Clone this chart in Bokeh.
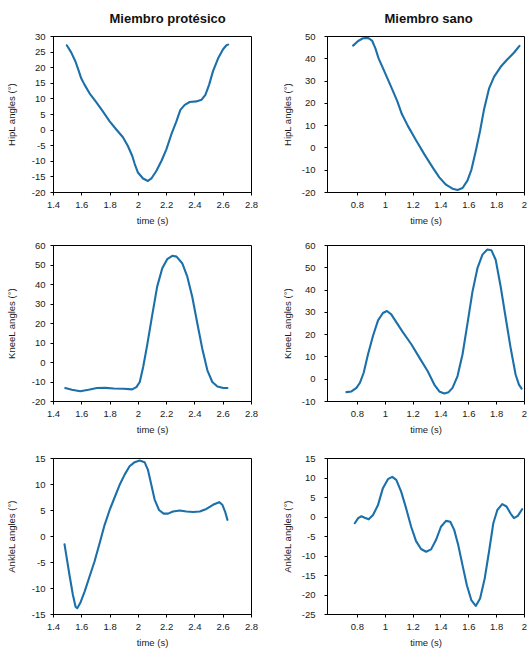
from bokeh.plotting import figure
from bokeh.layouts import gridplot
from bokeh.models import Range1d, FixedTicker
from bokeh.embed import file_html
from bokeh.resources import INLINE

# ---------------- data ----------------
col_titles = ["Miembro protésico", "Miembro sano"]
y_labels = ["HipL angles (°)", "KneeL angles (°)", "AnkleL angles (°)"]
x_label = "time (s)"

x_ticks_prot = [1.4, 1.6, 1.8, 2.0, 2.2, 2.4, 2.6, 2.8]
x_ticks_sano = [0.8, 1.0, 1.2, 1.4, 1.6, 1.8, 2.0]

hip_prot_t = [1.494, 1.525, 1.556, 1.579, 1.596, 1.620, 1.655, 1.702, 1.749, 1.797, 1.844,
              1.891, 1.926, 1.957, 1.974, 1.997, 2.033, 2.068, 2.092, 2.127, 2.163, 2.198,
              2.233, 2.269, 2.297, 2.328, 2.363, 2.41, 2.446, 2.474, 2.5, 2.528, 2.564,
              2.599, 2.623, 2.635]
hip_prot_y = [27.2, 24.9, 21.9, 18.9, 16.6, 14.5, 11.8, 9.0, 6.0, 2.8, 0.2,
              -2.3, -5.1, -8.3, -10.8, -13.6, -15.5, -16.3, -15.5, -13.1, -9.9, -6.2,
              -1.4, 2.8, 6.5, 8.1, 9.0, 9.2, 9.7, 11.3, 14.5, 18.9, 23.0,
              25.9, 27.2, 27.4]

hip_sano_t = [0.769, 0.805, 0.840, 0.876, 0.905, 0.929, 0.952, 0.995, 1.043, 1.086, 1.119,
              1.162, 1.221, 1.281, 1.340, 1.388, 1.436, 1.483, 1.519, 1.555, 1.590, 1.619,
              1.650, 1.681, 1.710, 1.745, 1.781, 1.829, 1.876, 1.924, 1.964]
hip_sano_y = [45.9, 48.0, 49.2, 49.4, 48.2, 44.7, 40.2, 34.1, 27.3, 21.0, 15.2,
              9.9, 3.4, -2.9, -8.7, -13.2, -16.5, -18.3, -18.9, -18.0, -14.7, -9.7,
              -1.4, 7.7, 17.5, 26.6, 31.9, 36.4, 39.7, 42.7, 45.8]

knee_prot_t = [1.483, 1.530, 1.589, 1.648, 1.707, 1.767, 1.826, 1.897, 1.956, 1.986, 2.010,
               2.034, 2.062, 2.098, 2.133, 2.169, 2.204, 2.240, 2.270, 2.310, 2.346, 2.381,
               2.417, 2.452, 2.488, 2.523, 2.559, 2.601, 2.630]
knee_prot_y = [-13.1, -14.0, -14.7, -14.0, -13.1, -13.0, -13.3, -13.5, -13.8, -12.6, -10.0,
               -2.3, 8.8, 24.3, 38.9, 48.3, 53.0, 54.7, 54.3, 50.9, 44.0, 33.7,
               20.0, 7.1, -4.0, -10.0, -12.3, -13.1, -13.1]

knee_sano_t = [0.721, 0.757, 0.793, 0.817, 0.845, 0.876, 0.912, 0.948, 0.983, 1.012, 1.043,
               1.079, 1.126, 1.186, 1.245, 1.305, 1.352, 1.388, 1.424, 1.455, 1.483, 1.519,
               1.555, 1.590, 1.626, 1.662, 1.698, 1.733, 1.762, 1.793, 1.829, 1.864, 1.900,
               1.936, 1.960, 1.979]
knee_sano_y = [-5.8, -5.5, -3.9, -1.7, 2.9, 11.2, 19.5, 26.4, 29.7, 30.6, 29.1,
               25.6, 21.1, 15.8, 9.7, 3.6, -2.4, -5.5, -6.4, -5.8, -3.9, 1.4,
               11.2, 24.8, 39.2, 49.8, 55.9, 58.2, 57.9, 53.6, 41.5, 27.9, 14.2,
               2.1, -2.4, -4.2]

ankle_prot_t = [1.478, 1.494, 1.513, 1.537, 1.556, 1.568, 1.589, 1.620, 1.655, 1.690, 1.726,
                1.761, 1.797, 1.832, 1.867, 1.903, 1.938, 1.974, 2.009, 2.044, 2.068, 2.092,
                2.115, 2.146, 2.179, 2.210, 2.245, 2.292, 2.340, 2.387, 2.434, 2.481, 2.528,
                2.571, 2.594, 2.613, 2.630]
ankle_prot_y = [-1.5, -4.2, -7.4, -11.2, -13.5, -13.8, -12.8, -10.6, -7.7, -4.8, -1.3,
                2.2, 5.1, 7.5, 9.9, 11.9, 13.5, 14.3, 14.6, 14.3, 12.8, 9.9,
                7.1, 5.1, 4.4, 4.4, 4.8, 5.0, 4.8, 4.7, 4.8, 5.3, 6.1,
                6.6, 6.1, 4.8, 3.2]

ankle_sano_t = [0.781, 0.805, 0.829, 0.852, 0.881, 0.912, 0.948, 0.983, 1.019, 1.050, 1.079,
                1.114, 1.150, 1.186, 1.221, 1.257, 1.293, 1.329, 1.364, 1.400, 1.436, 1.467,
                1.495, 1.524, 1.555, 1.586, 1.619, 1.650, 1.681, 1.714, 1.745, 1.776, 1.805,
                1.840, 1.871, 1.900, 1.924, 1.952, 1.983]
ankle_sano_y = [-1.6, -0.3, 0.2, -0.2, -0.6, 0.5, 3.1, 7.4, 9.7, 10.3, 9.5,
                6.5, 2.2, -2.5, -6.2, -8.2, -8.9, -8.3, -5.9, -2.5, -1.0, -1.2,
                -3.3, -7.2, -12.4, -17.5, -21.4, -22.8, -20.9, -15.8, -8.9, -1.6, 1.8,
                3.3, 2.7, 0.9, -0.3, 0.3, 2.0]

y_ticks = {
    (0, 0): [-20, -15, -10, -5, 0, 5, 10, 15, 20, 25, 30],
    (0, 1): [-20, -10, 0, 10, 20, 30, 40, 50],
    (1, 0): [-20, -10, 0, 10, 20, 30, 40, 50, 60],
    (1, 1): [-10, 0, 10, 20, 30, 40, 50, 60],
    (2, 0): [-15, -10, -5, 0, 5, 10, 15],
    (2, 1): [-25, -20, -15, -10, -5, 0, 5, 10, 15],
}
x_range_prot = (1.4, 2.8)
x_range_sano = (0.585, 2.0)

series = {
    (0, 0): (hip_prot_t, hip_prot_y),
    (0, 1): (hip_sano_t, hip_sano_y),
    (1, 0): (knee_prot_t, knee_prot_y),
    (1, 1): (knee_sano_t, knee_sano_y),
    (2, 0): (ankle_prot_t, ankle_prot_y),
    (2, 1): (ankle_sano_t, ankle_sano_y),
}

# ---------------- style / layout ----------------
FONT = "Liberation Sans"
LINE_COLOR = "#1c70aa"
FRAME_H = 156
row_borders = [(36, 36), (17, 36), (21, 36)]
col_specs = [  # (frame width, border left, border right, tick standoff, label standoff, title offset)
    (198, 53, 12, 5, 12, 56),
    (197, 64, 6, 9, 6, 57),
]
TITLE_STANDOFF = 18


def fmt(v):
    return f"{v:g}"


def make(r, c):
    fw, bl, br, tsd, lsd, toff = col_specs[c]
    bt, bb = row_borders[r]
    xticks = x_ticks_prot if c == 0 else x_ticks_sano
    xr = x_range_prot if c == 0 else x_range_sano
    yt = y_ticks[(r, c)]
    p = figure(width=bl + fw + br, height=bt + FRAME_H + bb,
               x_range=Range1d(*xr), y_range=Range1d(yt[0], yt[-1]),
               output_backend="svg", toolbar_location=None,
               min_border_left=bl, min_border_right=br,
               min_border_top=bt, min_border_bottom=bb)
    p.xgrid.visible = False
    p.ygrid.visible = False
    p.outline_line_color = "black"
    p.outline_line_width = 1
    p.background_fill_color = "white"
    p.border_fill_color = "white"

    t, y = series[(r, c)]
    p.line(t, y, line_color=LINE_COLOR, line_width=2.1, line_join="round", line_cap="round")

    p.xaxis.ticker = FixedTicker(ticks=xticks)
    p.xaxis.major_label_overrides = {v: fmt(v) for v in xticks}
    p.yaxis.ticker = FixedTicker(ticks=yt)
    p.yaxis.major_label_overrides = {v: fmt(v) for v in yt}

    for ax in (p.xaxis[0], p.yaxis[0]):
        ax.minor_tick_line_color = None
        ax.major_tick_in = 0
        ax.major_tick_out = 3
        ax.axis_line_color = "black"
        ax.major_tick_line_color = "black"
        ax.major_label_text_font = FONT
        ax.major_label_text_font_size = "9.5px"
        ax.major_label_text_color = "#1a1a1a"
        ax.axis_label_text_font = FONT
        ax.axis_label_text_font_size = "9.5px"
        ax.axis_label_text_font_style = "normal"
        ax.axis_label_text_color = "#1a1a1a"

    p.xaxis.axis_label = x_label
    p.xaxis.major_label_standoff = 6
    p.xaxis.axis_label_standoff = 4
    p.yaxis.axis_label = y_labels[r]
    p.yaxis.major_label_standoff = tsd
    p.yaxis.axis_label_standoff = lsd

    if r == 0:
        p.title.text = col_titles[c]
        p.title.align = "left"
        p.title.offset = toff
        p.title.vertical_align = "top"
        p.title.standoff = TITLE_STANDOFF
        p.title.text_font = FONT
        p.title.text_font_size = "13px"
        p.title.text_font_style = "bold"
        p.title.text_color = "#111111"
    return p


grid = [[make(r, c) for c in range(2)] for r in range(3)]
layout = gridplot(grid, toolbar_location=None)

open("out.html", "w").write(file_html(layout, INLINE))
